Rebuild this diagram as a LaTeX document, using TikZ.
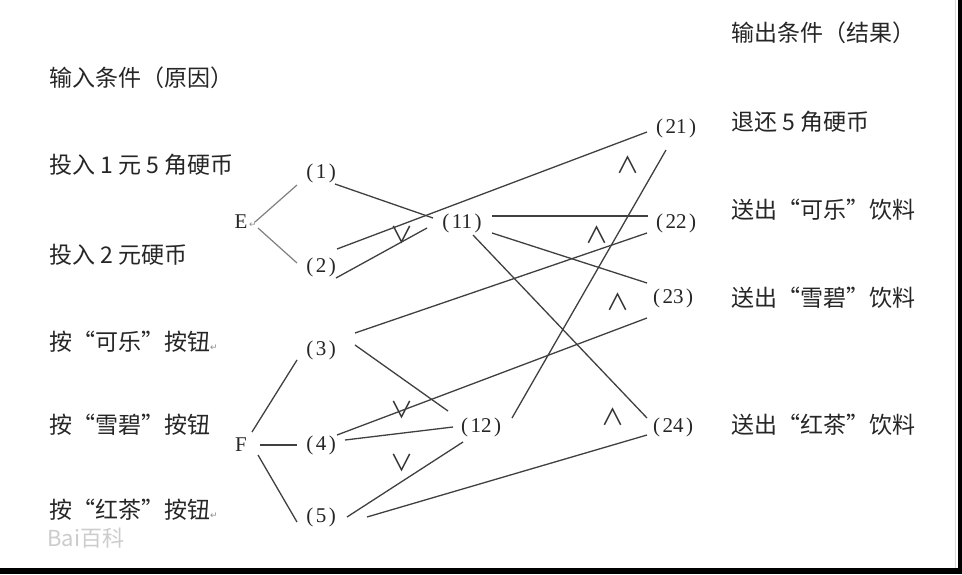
\documentclass[tikz,border=0pt]{standalone}
\usepackage{fontspec}
\setmainfont{Liberation Serif}
\newfontfamily\cjk{Noto Sans CJK SC}
\newfontfamily\sym{DejaVu Sans}
\usetikzlibrary{calc}
\newcommand\retmark{{\sym\fontsize{9}{9}\selectfont\color{black!45}↵}}
\newcommand\lb[1]{(\kern2.5pt#1\kern2.5pt)}
\begin{document}
\begin{tikzpicture}[x=1pt,y=-1pt,
  txt/.style={anchor=west, inner sep=0pt, font=\cjk\fontsize{23}{23}\selectfont, text=black!85},
  lab/.style={inner sep=0pt, font=\fontsize{21}{21}\selectfont, text=black!85},
  gate/.style={inner sep=0pt, font=\cjk\fontsize{23}{23}\selectfont, text=black!80},
  wire/.style={draw=black!75, line width=1.3pt},
  wireE/.style={draw=black!50, line width=1.2pt}]
\useasboundingbox (0,0) rectangle (962,574);
\fill[white] (0,0) rectangle (962,574);
\fill[black] (958,0) rectangle (962,574);
\fill[black] (0,568) rectangle (962,574);
\draw[black!15, line width=1pt] (955,0) -- (955,568);

% left texts
\node[txt] (c0) at (49,78) {输入条件（原因）};
\node[txt] (c1) at (49,165) {投入 1 元 5 角硬币};
\node[txt] (c2) at (49,255) {投入 2 元硬币};
\node[txt] (c3) at (49,342) {按“可乐”按钮\retmark};
\node[txt] (c4) at (49,425) {按“雪碧”按钮};
\node[txt] (c5) at (49,510) {按“红茶”按钮\retmark};
\node[txt, text=black!20, font=\cjk\fontsize{22}{22}\selectfont] (wm) at (47,538) {Bai百科};

% right texts
\node[txt] (r0) at (731,33) {输出条件（结果）};
\node[txt] (r1) at (731,122) {退还 5 角硬币};
\node[txt] (r2) at (731,210) {送出“可乐”饮料};
\node[txt] (r3) at (731,298) {送出“雪碧”饮料};
\node[txt] (r4) at (731,425) {送出“红茶”饮料};

% nodes
\node[lab] (E) at (241,222) {E};
\node[inner sep=0pt] (Eret) at (253,225) {\retmark};
\node[lab] (F) at (241,445) {F};
\node[lab] (n1) at (321,173) {\lb{1}};
\node[lab] (n2) at (321,267) {\lb{2}};
\node[lab] (n3) at (321,350) {\lb{3}};
\node[lab] (n4) at (321,445) {\lb{4}};
\node[lab] (n5) at (321,517) {\lb{5}};
\node[lab] (n11) at (462,223) {\lb{11}};
\node[lab] (n12) at (481,427) {\lb{12}};
\node[lab] (n21) at (676,128) {\lb{21}};
\node[lab] (n22) at (676,223) {\lb{22}};
\node[lab] (n23) at (673,298) {\lb{23}};
\node[lab] (n24) at (673,427) {\lb{24}};

% gates
\node[gate] (o1) at (402,235) {∨};
\node[gate] (o2) at (402,410) {∨};
\node[gate] (o3) at (402,463) {∨};
\node[gate] (a1) at (628,165) {∧};
\node[gate] (a2) at (597,235) {∧};
\node[gate] (a3) at (618,302) {∧};
\node[gate] (a4) at (613,417) {∧};

% connectors
\draw[wireE] ($(n1)+(-24,12)$) -- ($(E)+(14,0)$);
\draw[wireE] ($(E)+(17,6)$) -- ($(n2)+(-24,-4)$);
\draw[wire] ($(n1)+(14,11)$) -- ($(n11)+(-29,-5)$);
\draw[wire] ($(n2)+(16,-18)$) -- ($(n21)+(-29,4)$);
\draw[wire] ($(n2)+(15,11)$) -- ($(n11)+(-35,5)$);
\draw[wire] ($(n11)+(30,-7)$) -- ($(n22)+(-28,-7)$);
\draw[wire] ($(n11)+(30,10)$) -- ($(n23)+(-26,-15)$);
\draw[wire] ($(n11)+(11,12)$) -- ($(n24)+(-26,-9)$);
\draw[wire] ($(n12)+(31,-9)$) -- ($(n21)+(-10,22)$);
\draw[wire] ($(n3)+(34,-17)$) -- ($(n22)+(-29,10)$);
\draw[wire] ($(n3)+(34,-5)$) -- ($(n12)+(-33,-16)$);
\draw[wire] ($(n4)+(16,-10)$) -- ($(n23)+(-26,20)$);
\draw[wire] ($(n4)+(24,-5)$) -- ($(n12)+(-28,0)$);
\draw[wire] ($(n5)+(26,0)$) -- ($(n12)+(-18,15)$);
\draw[wire] ($(n5)+(46,0)$) -- ($(n24)+(-26,8)$);
\draw[wire] ($(F)+(11,-13)$) -- ($(n3)+(-24,10)$);
\draw[wire] ($(F)+(19,0)$) -- ($(n4)+(-24,0)$);
\draw[wire] ($(F)+(17,10)$) -- ($(n5)+(-24,5)$);
\end{tikzpicture}
\end{document}
